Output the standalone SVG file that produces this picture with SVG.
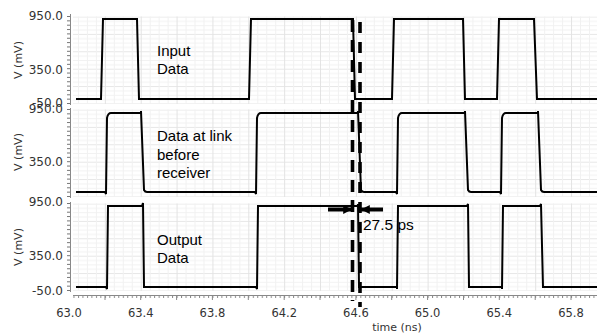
<svg xmlns="http://www.w3.org/2000/svg" xmlns:xlink="http://www.w3.org/1999/xlink" width="597" height="335" viewBox="0 0 597 335">
<style>
.tk{font-family:"DejaVu Sans",Verdana,sans-serif;font-size:12px;fill:#333;}
.tx{font-family:"DejaVu Sans",Verdana,sans-serif;font-size:11.5px;fill:#333;text-anchor:middle;}
.yl{font-family:"DejaVu Sans",Verdana,sans-serif;font-size:11px;fill:#333;text-anchor:middle;}
.lb{font-family:"Liberation Sans",Arial,sans-serif;font-size:15px;fill:#000;}
.wave{fill:none;stroke:#000;stroke-width:2;stroke-linejoin:miter;}
.ax{stroke:#888;stroke-width:1;fill:none;}
.dash{stroke:#000;stroke-width:3.6;fill:none;}
</style>
<defs>
<pattern id="gv" patternUnits="userSpaceOnUse" x="69" y="0" width="35.86" height="400">
<line x1="0.5" y1="0" x2="0.5" y2="400" stroke="#e3e3e3" stroke-width="1"/>
<line x1="9.46" y1="0" x2="9.46" y2="400" stroke="#f1f1f1" stroke-width="1"/>
<line x1="18.43" y1="0" x2="18.43" y2="400" stroke="#f1f1f1" stroke-width="1"/>
<line x1="27.4" y1="0" x2="27.4" y2="400" stroke="#f1f1f1" stroke-width="1"/>
</pattern>
<pattern id="gh" patternUnits="userSpaceOnUse" x="0" y="0" width="600" height="17.4">
<line x1="0" y1="0.5" x2="600" y2="0.5" stroke="#e6e6e6" stroke-width="1"/>
<line x1="0" y1="4.85" x2="600" y2="4.85" stroke="#f2f2f2" stroke-width="1"/>
<line x1="0" y1="9.2" x2="600" y2="9.2" stroke="#f2f2f2" stroke-width="1"/>
<line x1="0" y1="13.55" x2="600" y2="13.55" stroke="#f2f2f2" stroke-width="1"/>
</pattern>
<pattern id="xt" patternUnits="userSpaceOnUse" x="69" y="295" width="4.4825" height="3">
<line x1="0.5" y1="0" x2="0.5" y2="3" stroke="#888" stroke-width="1"/>
</pattern>
<path id="yt" d="M67,0h3M67,4.35h3M67,8.7h3M67,13.05h3M67,17.4h3M67,21.75h3M67,26.1h3M67,30.45h3M67,34.8h3M67,39.15h3M67,43.5h3M67,47.85h3M67,52.2h3M67,56.55h3M67,60.9h3M67,65.25h3M67,69.6h3M67,73.95h3M67,78.3h3M67,82.65h3M67,87h3" stroke="#777" stroke-width="1" fill="none"/>
<marker id="ah" viewBox="0 0 10 10" refX="10" refY="5" markerWidth="2.4" markerHeight="2.2" orient="auto" markerUnits="strokeWidth">
<path d="M0,0 L10,5 L0,10 Z" fill="#000"/>
</marker>
</defs>
<rect width="597" height="335" fill="#fff"/>

<g id="panel1">
<g transform="translate(0,16.5)">
<rect x="73" y="0" width="524" height="87.5" fill="url(#gh)"/>
</g>
<rect x="73" y="16.5" width="524" height="87.5" fill="url(#gv)"/>
<line class="ax" x1="70.5" y1="14" x2="70.5" y2="105"/>
<use xlink:href="#yt" href="#yt" y="16.5"/>
<text class="tk" x="63" y="20" text-anchor="end">950.0</text>
<text class="tk" x="63" y="74" text-anchor="end">350.0</text>
<text class="tk" x="63" y="107" text-anchor="end">-50.0</text>
<text class="yl" transform="translate(22,60) rotate(-90)">V (mV)</text>
<path class="wave" d="M76,99 H101 L103,19 H137 L139,99 H249 L251,19 H353 L355,99 H392 L394,19 H463 L465,99 H497 L499,19 H534 L537,99 H597"/>
<text class="lb" x="157" y="55.5">Input</text>
<text class="lb" x="157" y="74">Data</text>
</g>

<g id="panel2">
<g transform="translate(0,109.5)">
<rect x="73" y="0" width="524" height="87.5" fill="url(#gh)"/>
</g>
<rect x="73" y="109.5" width="524" height="87.5" fill="url(#gv)"/>
<line class="ax" x1="70.5" y1="108" x2="70.5" y2="198"/>
<use xlink:href="#yt" href="#yt" y="109.5"/>
<text class="tk" x="63" y="113" text-anchor="end">950.0</text>
<text class="tk" x="63" y="166" text-anchor="end">350.0</text>
<text class="yl" transform="translate(22,152) rotate(-90)">V (mV)</text>
<path class="wave" d="M76,192 H105 L106,194 L107,118 Q108,113 111,113 H141 L141,111 L144,190 Q145,192 147,192 H255 L256,194 L257,118 Q258,113 261,113 H358 L358,111 L361,190 Q362,192 364,192 H396 L397,194 L398,118 Q399,113 402,113 H465 L465,111 L468,190 Q469,192 471,192 H500 L501,194 L502,118 Q503,113 506,113 H538 L538,111 L541,190 Q542,192 544,192 H597"/>
<text class="lb" x="157" y="141">Data at link</text>
<text class="lb" x="157" y="159.5">before</text>
<text class="lb" x="157" y="178">receiver</text>
</g>

<g id="panel3">
<g transform="translate(0,203.5)">
<rect x="73" y="0" width="524" height="87.5" fill="url(#gh)"/>
</g>
<rect x="73" y="203.5" width="524" height="87.5" fill="url(#gv)"/>
<line class="ax" x1="70.5" y1="202" x2="70.5" y2="292"/>
<use xlink:href="#yt" href="#yt" y="203.5"/>
<text class="tk" x="63" y="206" text-anchor="end">950.0</text>
<text class="tk" x="63" y="260" text-anchor="end">350.0</text>
<text class="tk" x="63" y="295" text-anchor="end">-50.0</text>
<text class="yl" transform="translate(22,247) rotate(-90)">V (mV)</text>
<path class="wave" d="M76,287 H106 L107,289 L108,206 H142 L143,203 L144,287 H256 L257,289 L258,206 H358 L358,204 L359,287 H397 L397,289 L398,206 H467 L468,204 L469,287 H502 L502,289 L503,206 H540 L541,204 L543,287 H597"/>
<text class="lb" x="157" y="245">Output</text>
<text class="lb" x="157" y="263">Data</text>
</g>

<g id="xaxis">
<line class="ax" x1="73" y1="295.5" x2="597" y2="295.5"/>
<rect x="73" y="295" width="524" height="3" fill="url(#xt)"/>
<path d="M105,295v5M140.7,295v5M176.6,295v5M212.4,295v5M248.3,295v5M284.2,295v5M320,295v5M355.9,295v5M391.7,295v5M427.6,295v5M463.5,295v5M499.3,295v5M535.2,295v5M571,295v5" stroke="#888" stroke-width="1"/>
<text class="tx" x="69" y="317">63.0</text>
<text class="tx" x="140.7" y="317">63.4</text>
<text class="tx" x="212.4" y="317">63.8</text>
<text class="tx" x="284.2" y="317">64.2</text>
<text class="tx" x="355.9" y="317">64.6</text>
<text class="tx" x="427.6" y="317">65.0</text>
<text class="tx" x="499.3" y="317">65.4</text>
<text class="tx" x="571" y="317">65.8</text>
<text class="yl" x="397" y="331">time (ns)</text>
</g>

<g id="connectors">
<line class="dash" x1="352.5" y1="20" x2="352.5" y2="301" stroke-dasharray="12 8"/>
<line class="dash" x1="360" y1="22" x2="360" y2="307" stroke-dasharray="11 9"/>
<line x1="328" y1="209.5" x2="352" y2="209.5" stroke="#000" stroke-width="4" marker-end="url(#ah)"/>
<line x1="383" y1="209.5" x2="361" y2="209.5" stroke="#000" stroke-width="4" marker-end="url(#ah)"/>
</g>
<text class="lb" x="363" y="230" style="font-size:15.5px">27.5 ps</text>
</svg>
